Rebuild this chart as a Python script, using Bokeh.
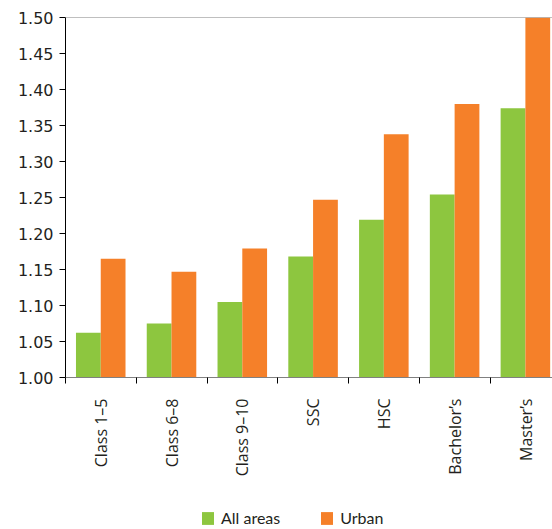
import numpy as np
from bokeh.plotting import figure
from bokeh.layouts import column
from bokeh.models import FixedTicker, Range1d, Span, Legend, LegendItem
from bokeh.embed import file_html
from bokeh.resources import INLINE

categories = ["Class 1–5", "Class 6–8", "Class 9–10", "SSC", "HSC", "Bachelor’s", "Master’s"]
all_areas = [1.062, 1.075, 1.105, 1.168, 1.219, 1.254, 1.374]
urban = [1.165, 1.147, 1.179, 1.247, 1.338, 1.380, 1.500]
series_names = ["All areas", "Urban"]
y_ticks = [1.00, 1.05, 1.10, 1.15, 1.20, 1.25, 1.30, 1.35, 1.40, 1.45, 1.50]
y_tick_labels = ["1.00", "1.05", "1.10", "1.15", "1.20", "1.25", "1.30", "1.35", "1.40", "1.45", "1.50"]

GREEN = "#8DC63F"
ORANGE = "#F58029"
TXT = "#231f20"

idx = np.arange(len(categories))

p = figure(width=552, height=480, output_backend="svg", toolbar_location=None,
           x_range=Range1d(0, 6.881), y_range=Range1d(1.0, 1.5),
           min_border_left=65, min_border_right=0, min_border_top=17, min_border_bottom=103)
p.outline_line_color = None
p.xgrid.grid_line_color = None
p.ygrid.grid_line_color = None

bw = 0.35
p.vbar(x=idx + 0.148 + bw / 2, top=all_areas, bottom=1.0, width=bw, fill_color=GREEN, line_color=None)
p.vbar(x=idx + 0.148 + bw * 1.5, top=urban, bottom=1.0, width=bw, fill_color=ORANGE, line_color=None)

p.add_layout(Span(location=1.5, dimension="width", line_color="#808080", line_width=1))

# y axis
ya = p.yaxis[0]
ya.ticker = FixedTicker(ticks=y_ticks, minor_ticks=[])
ya.major_label_overrides = {t: l for t, l in zip(y_ticks, y_tick_labels)}
ya.axis_line_color = "#000000"
ya.major_tick_line_color = "#000000"
ya.major_tick_out = 6
ya.major_tick_in = 0
ya.minor_tick_line_color = None
ya.major_label_standoff = 6
ya.major_label_text_font = "DejaVu Sans"
ya.major_label_text_font_size = "16px"
ya.major_label_text_color = TXT

# x axis
xa = p.xaxis[0]
xa.ticker = FixedTicker(ticks=list(idx + 0.5), minor_ticks=list(range(len(categories) + 1)))
xa.major_label_overrides = {float(i + 0.5): c for i, c in zip(idx, categories)}
xa.major_label_orientation = np.pi / 2
xa.axis_line_color = "#808080"
xa.major_tick_line_color = None
xa.major_tick_out = 0
xa.major_tick_in = 0
xa.minor_tick_line_color = "#000000"
xa.minor_tick_out = 6
xa.minor_tick_in = 0
xa.major_label_standoff = 15
xa.major_label_text_font = "Open Sans"
xa.major_label_text_font_size = "16px"
xa.major_label_text_color = TXT

# legend strip (its frame is aligned with the main frame by the column layout)
pl = figure(width=552, height=49, output_backend="svg", toolbar_location=None,
            x_range=Range1d(0, 1), y_range=Range1d(0, 1), x_axis_type=None, y_axis_type=None,
            min_border=0)
pl.outline_line_color = None
pl.grid.grid_line_color = None
g1 = pl.vbar(x=[0.5], top=[0.5], width=0.1, fill_color=GREEN, line_color=None, visible=False)
g2 = pl.vbar(x=[0.5], top=[0.5], width=0.1, fill_color=ORANGE, line_color=None, visible=False)
legend = Legend(items=[LegendItem(label=series_names[0], renderers=[g1]),
                       LegendItem(label=series_names[1], renderers=[g2])],
                location=(135, 2), orientation="horizontal", border_line_color=None,
                background_fill_alpha=0, padding=0, margin=0, spacing=39,
                glyph_width=15, glyph_height=16, label_standoff=6,
                label_text_font="Lato", label_text_font_size="16px", label_text_color=TXT,
                label_height=16, inactive_fill_alpha=0)
pl.add_layout(legend, "center")

layout = column(p, pl, spacing=0)
open("out.html", "w").write(file_html(layout, INLINE))
